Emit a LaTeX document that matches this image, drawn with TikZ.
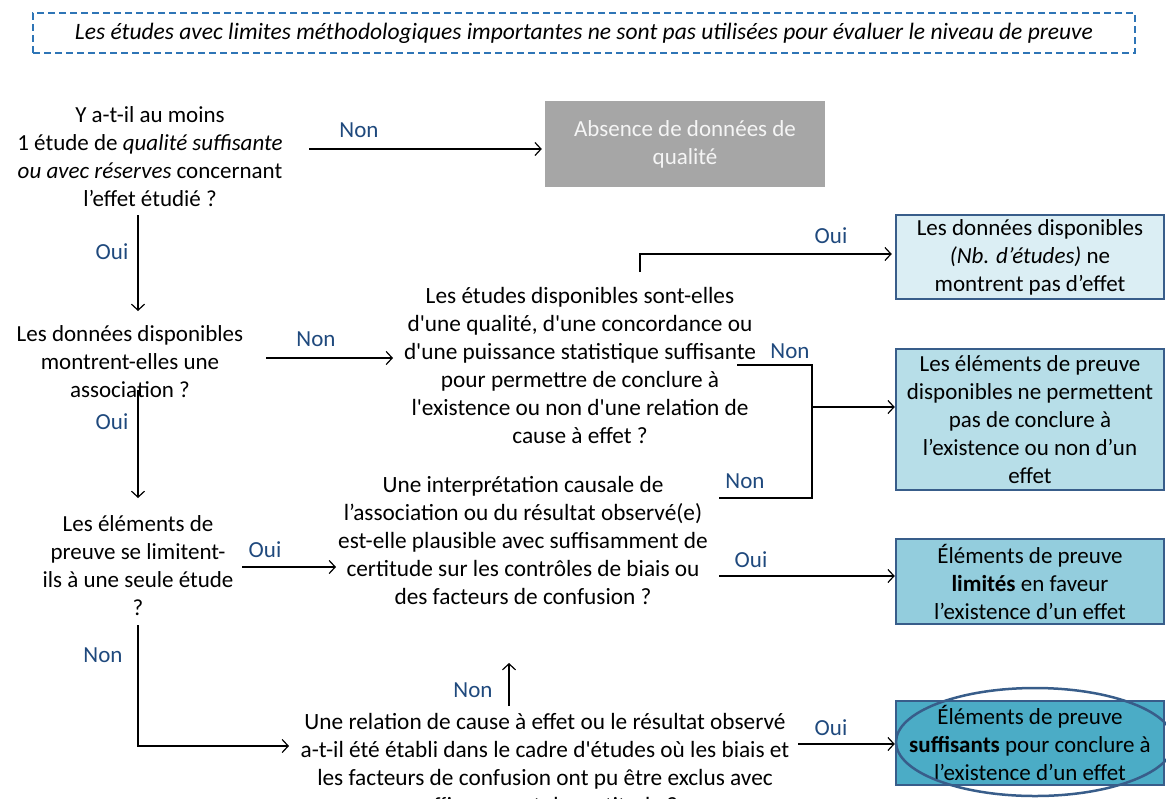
\documentclass[tikz,border=0pt]{standalone}
\usepackage{fontspec}
\setmainfont{Carlito}
\usetikzlibrary{arrows.meta}
\definecolor{lbl}{RGB}{31,73,125}
\definecolor{bord}{RGB}{56,93,138}
\definecolor{fA}{RGB}{219,238,244}
\definecolor{fB}{RGB}{183,222,232}
\definecolor{fC}{RGB}{147,205,221}
\definecolor{fD}{RGB}{75,172,198}
\definecolor{grayf}{RGB}{166,166,166}
\definecolor{dashc}{RGB}{46,117,182}
\definecolor{offwhite}{RGB}{245,245,245}
\newcommand{\sq}{\textquotesingle}
\begin{document}
\begin{tikzpicture}[x=1pt,y=-1pt,
 q/.style={align=center, inner sep=0pt, font=\fontsize{23}{28}\selectfont},
 qs/.style={align=center, inner sep=0pt, font=\fontsize{23.3}{28}\selectfont},
 lab/.style={text=lbl, inner sep=0pt, font=\fontsize{23}{26}\selectfont},
 res/.style={draw=bord, line width=2.5pt, align=center, inner sep=0pt, minimum width=268pt, font=\fontsize{23}{28}\selectfont},
 arr/.style={line width=1.2pt, -{Straight Barb[length=6pt,width=13pt,line width=1.2pt]}},
 ln/.style={line width=1.2pt},
]
\useasboundingbox (0,0) rectangle (1166,798);

% banner
\node[draw=dashc, dash pattern=on 7pt off 4pt, line width=1.5pt, minimum width=1102pt, minimum height=40pt, inner sep=0pt, font=\fontsize{23.5}{26}\selectfont\itshape] (banner) at (584,33) {Les études avec limites méthodologiques importantes ne sont pas utilisées pour évaluer le niveau de preuve};

% questions
\node[q] (q1) at (150,157) {Y a-t-il au moins\\1 étude de \textit{qualité suffisante}\\\textit{ou avec réserves} concernant\\l’effet étudié ?};
\node[q] (q2) at (130,362) {Les données disponibles\\montrent-elles une\\association ?};
\node[qs] (q3) at (580,365) {Les études disponibles sont-elles\\d\sq une qualité, d\sq une concordance ou\\d\sq une puissance statistique suffisante\\pour permettre de conclure à\\l\sq existence ou non d\sq une relation de\\cause à effet ?};
\node[q] (q4) at (138,566) {Les éléments de\\preuve se limitent-\\ils à une seule étude\\?};
\node[qs] (q5) at (523,540) {Une interprétation causale de\\l’association ou du résultat observé(e)\\est-elle plausible avec suffisamment de\\certitude sur les contrôles de biais ou\\des facteurs de confusion ?};
\node[qs] (q6) at (545,763) {Une relation de cause à effet ou le résultat observé\\a-t-il été établi dans le cadre d\sq études où les biais et\\les facteurs de confusion ont pu être exclus avec\\suffisamment de certitude ?};

% outcome boxes
\node[fill=grayf, text=offwhite, minimum width=280pt, minimum height=86pt, align=center, inner sep=0pt, font=\fontsize{23}{28}\selectfont] (absence) at (685,144) {Absence de données de\\qualité};
\node[res, fill=fA, minimum height=84pt] (r1) at (1030,257) {Les données disponibles\\\textit{(Nb. d’études)} ne\\montrent pas d’effet};
\node[res, fill=fB, minimum height=141pt] (r2) at (1030,419.5) {Les éléments de preuve\\disponibles ne permettent\\pas de conclure à\\l’existence ou non d’un\\effet};
\node[res, fill=fC, minimum height=85pt] (r3) at (1030,581.5) {Éléments de preuve\\\textbf{limités} en faveur\\l’existence d’un effet};
\node[res, fill=fD, minimum height=84pt] (r4) at (1030,743) {Éléments de preuve\\\textbf{suffisants} pour conclure à\\l’existence d’un effet};
\draw[draw=bord, line width=2.5pt] (1035,742) ellipse [x radius=139, y radius=54];

% connector points
\coordinate (a1) at (309,149);
\coordinate (b1) at (138,215);
\coordinate (b1e) at (138,311);
\coordinate (a2) at (266,358);
\coordinate (a2e) at (393,358);
\coordinate (o3) at (640,272);
\coordinate (o3b) at (640,254);
\coordinate (n3) at (737,365);
\coordinate (j1) at (812,365);
\coordinate (j2) at (812,498);
\coordinate (n5) at (719,498);
\coordinate (j3) at (812,407);
\coordinate (b2) at (138,390);
\coordinate (b2e) at (138,498);
\coordinate (a4) at (242,567);
\coordinate (a4e) at (336,567);
\coordinate (o5) at (719,576);
\coordinate (b4) at (138,625);
\coordinate (b4c) at (138,746);
\coordinate (b4e) at (289,746);
\coordinate (n6) at (509,706);
\coordinate (n6e) at (509,663);
\coordinate (o6) at (798,744);

% connectors
\draw[arr, shorten >=3pt] (a1) -- (a1 -| absence.west);
\draw[arr] (b1) -- (b1e);
\draw[arr] (a2) -- (a2e);
\draw[arr, shorten >=3pt] (o3) -- (o3b) -- (o3b -| r1.west);
\draw[ln] (n3) -- (j1) -- (j2) -- (n5);
\draw[arr] (j3) -- (j3 -| r2.west);
\draw[arr] (b2) -- (b2e);
\draw[arr] (a4) -- (a4e);
\draw[arr] (o5) -- (o5 -| r3.west);
\draw[arr] (b4) -- (b4c) -- (b4e);
\draw[arr] (n6) -- (n6e);
\draw[arr] (o6) -- (o6 -| r4.west);

% labels
\node[lab] (l1) at (359,130) {Non};
\node[lab] (l2) at (112,252) {Oui};
\node[lab] (l3) at (316,339) {Non};
\node[lab] (l4) at (831,236) {Oui};
\node[lab] (l5) at (790,351) {Non};
\node[lab] (l6) at (745,481) {Non};
\node[lab] (l7) at (112,422) {Oui};
\node[lab] (l8) at (265,550) {Oui};
\node[lab] (l9) at (751,560) {Oui};
\node[lab] (l10) at (103,655) {Non};
\node[lab] (l11) at (473,690) {Non};
\node[lab] (l12) at (831,728) {Oui};
\end{tikzpicture}
\end{document}
